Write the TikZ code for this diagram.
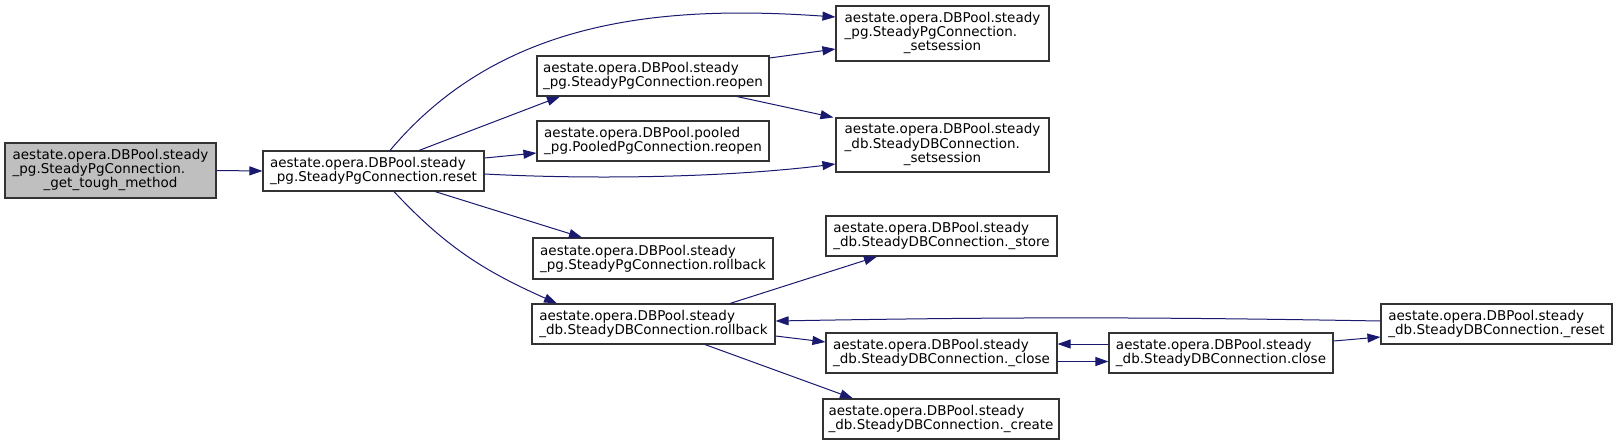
\documentclass[tikz,border=0pt]{standalone}
\usepackage{fontspec}
\setmainfont{DejaVu Sans}
\usetikzlibrary{arrows.meta}
\definecolor{appelbleu}{HTML}{191970}
\newcommand{\troislignes}[3]{\begin{tabular}{@{}l@{}}#1\\#2\\\multicolumn{1}{@{}c@{}}{#3}\end{tabular}}

\begin{document}
\begin{tikzpicture}[x=1pt, y=-1pt,
        fonc/.style={draw=black!80, line width=1.1pt, fill=white, inner sep=0pt, align=left,
            minimum height=40, font=\fontsize{13.5}{14}\selectfont},
        racine/.style={fonc, fill=black!25},
        appel/.style={draw=appelbleu, line width=1pt, -{Triangle[length=13pt, width=9pt]}}]
    \useasboundingbox (0,0) rectangle (1617,445);
    % colonne 0 et 1
    \node[racine, minimum width=211, minimum height=55] (tough) at (110.5,170.5)
        {\troislignes{aestate.opera.DBPool.steady}{\_pg.SteadyPgConnection.}{\_get\_tough\_method}};
    \node[fonc, minimum width=221] (reset) at (373.5,171)
        {aestate.opera.DBPool.steady\\\_pg.SteadyPgConnection.reset};
    % colonne 2
    \node[fonc, minimum width=232] (reopen) at (653,76)
        {aestate.opera.DBPool.steady\\\_pg.SteadyPgConnection.reopen};
    \node[fonc, minimum width=232] (pooled) at (653,141)
        {aestate.opera.DBPool.pooled\\\_pg.PooledPgConnection.reopen};
    \node[fonc, minimum width=240, minimum height=41] (pgrollback) at (653,258.5)
        {aestate.opera.DBPool.steady\\\_pg.SteadyPgConnection.rollback};
    \node[fonc, minimum width=243] (dbrollback) at (653.5,324)
        {aestate.opera.DBPool.steady\\\_db.SteadyDBConnection.rollback};
    % colonne 3
    \node[fonc, minimum width=213, minimum height=55] (pgsession) at (942.5,33.5)
        {\troislignes{aestate.opera.DBPool.steady}{\_pg.SteadyPgConnection.}{\_setsession}};
    \node[fonc, minimum width=213, minimum height=54] (dbsession) at (942.5,145)
        {\troislignes{aestate.opera.DBPool.steady}{\_db.SteadyDBConnection.}{\_setsession}};
    \node[fonc, minimum width=231] (store) at (941.5,236)
        {aestate.opera.DBPool.steady\\\_db.SteadyDBConnection.\_store};
    \node[fonc, minimum width=231] (uclose) at (941.5,353)
        {aestate.opera.DBPool.steady\\\_db.SteadyDBConnection.\_close};
    \node[fonc, minimum width=236] (create) at (941,419)
        {aestate.opera.DBPool.steady\\\_db.SteadyDBConnection.\_create};
    % colonnes 4 et 5
    \node[fonc, minimum width=224] (close) at (1221,353)
        {aestate.opera.DBPool.steady\\\_db.SteadyDBConnection.close};
    \node[fonc, minimum width=231] (ureset) at (1496.5,324)
        {aestate.opera.DBPool.steady\\\_db.SteadyDBConnection.\_reset};
    % appels
    \draw[appel] (tough.east) -- (reset.west);
    \draw[appel] ([xshift=16.5]reset.north) to[out=50, in=176, looseness=.95] ([yshift=16.5]pgsession.west);
    \draw[appel] ([xshift=45.5]reset.north) -- ([xshift=-93]reopen.south);
    \draw[appel] ([yshift=13]reset.east) -- ([yshift=-12]pooled.west);
    \draw[appel] ([yshift=-3]reset.east) to[out=-3, in=187, looseness=.8] ([yshift=-19]dbsession.west);
    \draw[appel] ([xshift=61.5]reset.south) -- ([xshift=-71]pgrollback.north);
    \draw[appel] ([xshift=20.5]reset.south) to[out=-47, in=156] ([xshift=-96.5]dbrollback.north);
    \draw[appel] ([yshift=18]reopen.east) -- ([yshift=-15.5]pgsession.west);
    \draw[appel] ([xshift=84]reopen.south) -- ([xshift=-2]dbsession.north west);
    \draw[appel] ([xshift=76.5]dbrollback.north) -- ([xshift=-64.5]store.south);
    \draw[appel] ([yshift=-12]dbrollback.east) -- ([yshift=11]uclose.west);
    \draw[appel] ([xshift=51.5]dbrollback.south) -- ([xshift=-88]create.north);
    \draw[appel] ([yshift=3]ureset.west) to[bend right=1] ([yshift=3]dbrollback.east);
    \draw[appel] ([yshift=9]close.west) -- ([yshift=9]uclose.east);
    \draw[appel] ([yshift=-8.5]uclose.east) -- ([yshift=-8.5]close.west);
    \draw[appel] ([yshift=12]close.east) -- ([yshift=-13]ureset.west);
\end{tikzpicture}
\end{document}
